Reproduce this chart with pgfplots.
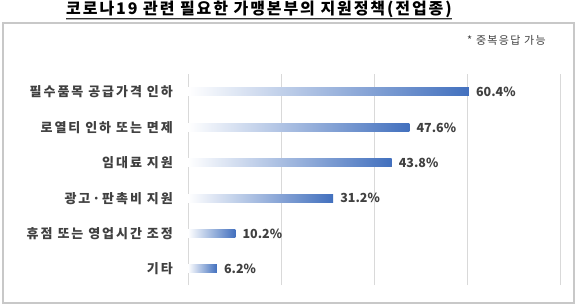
\documentclass[border=0pt]{standalone}
\usepackage{fontspec}
\setmainfont{Noto Sans CJK KR}
\usepackage{pgfplots}
\pgfplotsset{compat=1.18}
\definecolor{barblue}{RGB}{66,112,190}
\definecolor{txt}{RGB}{64,64,64}
\definecolor{gridc}{RGB}{217,217,217}
\definecolor{boxc}{RGB}{200,200,200}
\begin{document}
\begin{tikzpicture}
\useasboundingbox (0,0) rectangle (580pt,305pt);
\fill[white] (0,0) rectangle (580pt,305pt);
\draw[boxc, line width=1.2pt] (3pt,2pt) rectangle (574pt,282pt);
\node[anchor=base, font=\bfseries\fontsize{16}{18}\selectfont\addfontfeatures{LetterSpace=12}, inner sep=0pt] (t) at (259pt,290pt) {코로나19 관련 필요한 가맹본부의 지원정책(전업종)};
\draw[gray!60, line width=1.2pt] ([yshift=-4.5pt]t.base west) -- ([yshift=-4.5pt]t.base east);
\draw[black!80, line width=1pt] ([yshift=-3.5pt]t.base west) -- ([yshift=-3.5pt]t.base east);
\node[anchor=east, font=\fontsize{11}{12}\selectfont\addfontfeatures{LetterSpace=12}, text=txt, inner sep=0pt] at (546pt,265pt) {* 중복응답 가능};
\begin{axis}[
  scale only axis,
  width=372pt, height=211pt,
  at={(188pt,20pt)}, anchor=south west,
  xmin=0, xmax=80, ymin=-0.452, ymax=5.508,
  axis line style={draw=none},
  /pgf/number format/assume math mode=true,
  xtick={0,20,40,60,80}, xticklabels={},
  ytick={0,1,2,3,4,5},
  yticklabels={기타, 휴점 또는 영업시간 조정, 광고·판촉비 지원, 임대료 지원, 로열티 인하 또는 면제, 필수품목 공급가격 인하},
  yticklabel style={font=\bfseries\fontsize{13}{14}\selectfont\addfontfeatures{LetterSpace=15}, text=txt, anchor=east, inner sep=0pt, xshift=-15pt},
  major tick length=0pt,
  xmajorgrids, grid style={gridc, line width=0.9pt},
  xbar, bar width=8pt, bar shift=0pt,
  nodes near coords={\pgfmathprintnumber[fixed,fixed zerofill,precision=1]{\pgfplotspointmeta}\%},
  point meta=x,
  nodes near coords style={font=\bfseries\fontsize{12.5}{14}\selectfont, text=txt, anchor=west, inner sep=0pt, xshift=7pt},
  clip=false,
  every axis plot/.append style={draw=none, left color=white, middle color=barblue!70!white, right color=barblue},
]
\addplot coordinates {(6.2,0)};
\addplot coordinates {(10.2,1)};
\addplot coordinates {(31.2,2)};
\addplot coordinates {(43.8,3)};
\addplot coordinates {(47.6,4)};
\addplot coordinates {(60.4,5)};
\end{axis}
\end{tikzpicture}
\end{document}
